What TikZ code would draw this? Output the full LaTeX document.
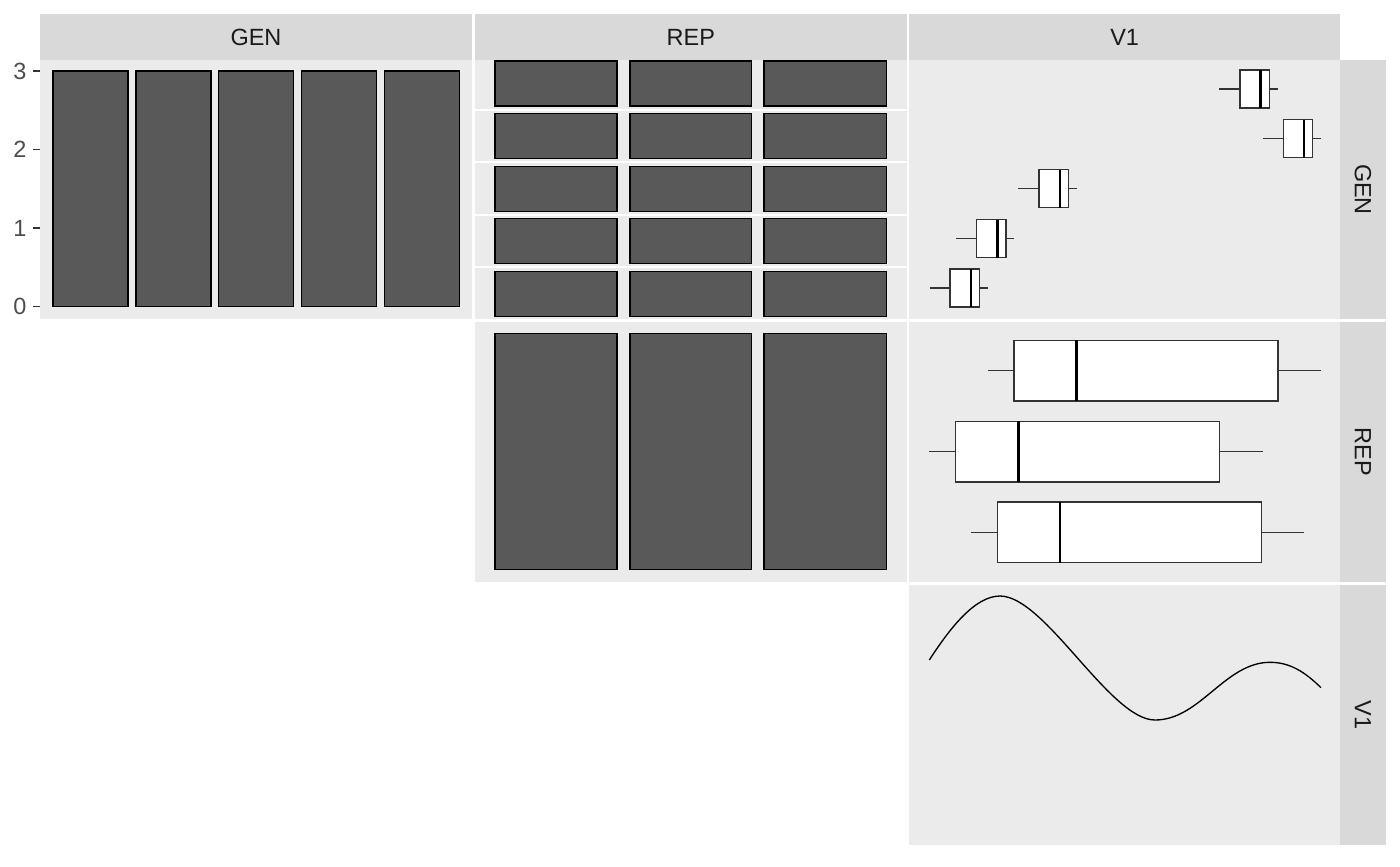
\documentclass[tikz,border=0pt]{standalone}
\usepackage{fontspec}
\setmainfont{Liberation Sans}
\definecolor{stripgrey}{HTML}{D9D9D9}
\definecolor{panelgrey}{HTML}{EBEBEB}
\definecolor{bargrey}{HTML}{595959}
\definecolor{axisgrey}{HTML}{4D4D4D}
\definecolor{tickgrey}{HTML}{333333}
\definecolor{striptext}{HTML}{1A1A1A}
% one horizontal box plot: y, half height, lower whisker, q1, median, q3, upper whisker
\newcommand{\boxrow}[7]{%
  \draw[whisker] (#3,#1) -- (#4,#1) (#6,#1) -- (#7,#1);
  \draw[boxbody] (#4,#1-#2) rectangle (#6,#1+#2);
  \draw[median] (#5,#1-#2) -- (#5,#1+#2);
}

\begin{document}
\begin{tikzpicture}[x=0.375pt, y=-0.375pt, font=\fontsize{8.8}{10}\selectfont]
\tikzstyle{every node}=[inner sep=0pt]
\tikzstyle{strip}=[fill=stripgrey]
\tikzstyle{panel}=[fill=panelgrey]
\tikzstyle{bar}=[fill=bargrey, draw=black, line width=0.45pt]
\tikzstyle{whisker}=[draw=tickgrey, line width=0.5pt]
\tikzstyle{boxbody}=[fill=white, draw=tickgrey, line width=0.5pt]
\tikzstyle{median}=[draw=black, line width=1.1pt]
\tikzstyle{striplabel}=[text=striptext]
\tikzstyle{ylabel}=[text=axisgrey, anchor=east]
\useasboundingbox[fill=white] (0,0) rectangle (1400,866);

% strips
\foreach \xa/\xb in {40/472, 475/906.7, 909.3/1340}
  \fill[strip] (\xa,14) rectangle (\xb,60);
\foreach \ya/\yb in {60/319, 321.7/581.7, 585/845}
  \fill[strip] (1340,\ya) rectangle (1386,\yb);

% panels
\fill[panel] (40,60) rectangle (472,319);
\fill[panel] (475,60) rectangle (906.7,319);
\fill[panel] (909.3,60) rectangle (1340,319);
\fill[panel] (475,321.7) rectangle (906.7,581.7);
\fill[panel] (909.3,321.7) rectangle (1340,581.7);
\fill[panel] (909.3,585) rectangle (1340,845);
\foreach \y in {109.8, 161.7, 214.5, 267.3}
  \draw[white, line width=0.75pt] (475,\y) -- (906.7,\y);

% GEN x GEN
\foreach \xa/\xb in {53/128, 136/211, 218.3/293.7, 301.3/376.3, 384.3/459.3}
  \draw[bar] (\xa,71) rectangle (\xb,306.7);
\foreach \v/\y in {3/71, 2/149.3, 1/228, 0/306.5} {
  \draw[tickgrey, line width=0.6pt] (33.3,\y) -- (40,\y);
  \node[ylabel] (y-\v) at (27,\y) {\v};
}

% REP x GEN, REP x REP
\foreach \k in {0,...,4}
  \foreach \xa/\xb in {495/617, 630/751.7, 764/886.3}
    \draw[bar] (\xa,61+52.55*\k) rectangle (\xb,106+52.55*\k);
\foreach \xa/\xb in {495/617, 630/751.7, 764/886.3}
  \draw[bar] (\xa,333.3) rectangle (\xb,569.3);

% V1 x GEN
\boxrow{89}{19}{1219}{1240}{1260.7}{1269.7}{1278}
\boxrow{138.7}{19}{1263}{1283.3}{1304}{1312.7}{1321}
\boxrow{188.7}{19}{1018.3}{1039}{1060}{1068.7}{1076.7}
\boxrow{238.7}{19}{956}{976.7}{997.3}{1006}{1014}
\boxrow{288}{19}{929.7}{950}{971}{979.3}{987.7}

% V1 x REP
\boxrow{370.7}{30.4}{987.7}{1014}{1076.7}{1278}{1321}
\boxrow{451.7}{30.4}{929.3}{955.7}{1018.3}{1219.7}{1262.7}
\boxrow{532.3}{30.4}{971}{997.3}{1060}{1261.3}{1304}

% V1 density
\draw[black, line width=0.5pt] (929.3,660)
  .. controls (950,628) and (975,596) .. (1000,596)
  .. controls (1045,596) and (1110,720) .. (1155,720)
  .. controls (1200,720) and (1225,662.3) .. (1270,662.3)
  .. controls (1290,662.3) and (1305,672) .. (1321,687.7);

% labels
\node[striplabel] (s-gen) at (256,37) {GEN};
\node[striplabel] (s-rep) at (690.8,37) {REP};
\node[striplabel] (s-v1) at (1124.6,37) {V1};
\node[striplabel, rotate=-90] (r-gen) at (1363,189.5) {GEN};
\node[striplabel, rotate=-90] (r-rep) at (1363,451.7) {REP};
\node[striplabel, rotate=-90] (r-v1) at (1363,715) {V1};
\end{tikzpicture}
\end{document}
